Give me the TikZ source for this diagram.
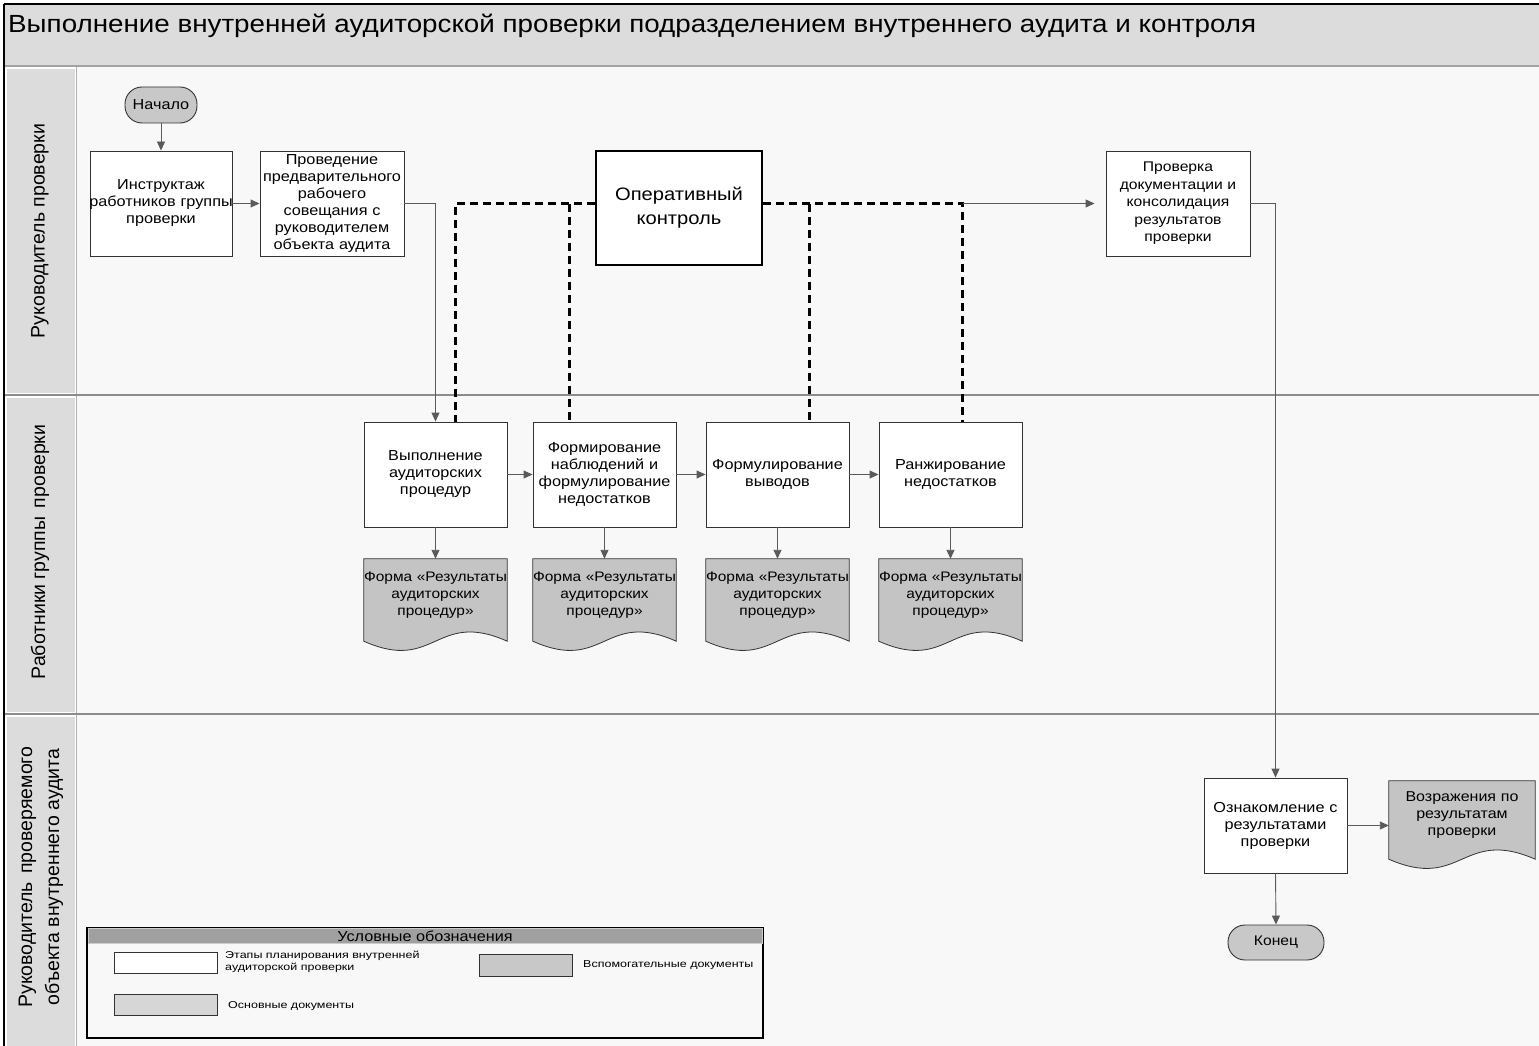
\documentclass[tikz,border=0pt]{standalone}
\usepackage{fontspec}
\setmainfont{Liberation Sans}[FakeStretch=1.12]
\newfontfamily\lanefont{Liberation Sans}
\newfontfamily\legfont{Liberation Sans}[FakeStretch=1.25]
\usetikzlibrary{arrows.meta,calc}
\pgfdeclarelayer{bgzero}
\pgfdeclarelayer{bgone}
\pgfsetlayers{bgzero,bgone,main}
\definecolor{hdr}{HTML}{DCDCDC}
\definecolor{pagebg}{HTML}{F8F8F8}
\definecolor{docc}{HTML}{C4C4C4}
\definecolor{termc}{HTML}{C8C8C8}
\definecolor{arrc}{HTML}{5A5A5A}
\definecolor{divc}{HTML}{8C8C8C}
\definecolor{legh}{HTML}{A0A0A0}
\definecolor{swa}{HTML}{C8C8C8}
\definecolor{swb}{HTML}{D6D6D6}
\definecolor{boxc}{HTML}{333333}
\newcommand\cln[1]{\makebox[\hsize][c]{#1}}
\newcommand\docshape[1]{%
  \path[docpath] (#1.north west) -- (#1.north east) -- ($(#1.south east)+(0,10)$)
    .. controls ($(#1.south)+(0,-22)$) and ($(#1.south)+(0,42)$) .. ($(#1.south west)+(0,10)$) -- cycle;}
\begin{document}
\begin{tikzpicture}[x=1pt,y=-1pt,
  proc/.style={draw=boxc, fill=white, line width=0.9pt, minimum width=143pt, minimum height=105pt,
    inner sep=0pt, text width=143pt, align=center, font=\fontsize{14.5}{17}\selectfont},
  docnode/.style={draw=none, minimum width=143pt, minimum height=72pt, inner sep=0pt,
    text width=143pt, align=center, font=\fontsize{13.8}{17}\selectfont},
  docpath/.style={fill=docc, draw=boxc, line width=0.8pt},
  term/.style={draw=boxc, fill=termc, line width=0.9pt, rounded corners=17pt, inner sep=0pt,
    font=\fontsize{14.5}{17}\selectfont},
  arr/.style={draw=arrc, line width=0.9pt, -{Triangle[length=9pt,width=8pt]}},
  dsh/.style={draw=black, line width=2.4pt, dash pattern=on 8pt off 5pt},
  lane/.style={rotate=90, align=center, font=\lanefont\fontsize{19.5}{27}\selectfont},
  legtxt/.style={anchor=west, align=left, inner sep=0pt, font=\legfont\fontsize{10}{12}\selectfont},
  swatch/.style={draw=boxc, line width=0.9pt, minimum width=103pt, minimum height=21pt, inner sep=0pt}
]
\useasboundingbox (0,0) rectangle (1539,1046);
\begin{pgfonlayer}{bgzero}
  \fill[white] (0,0) rectangle (1539,1046);
  \fill[pagebg] (76,67) rectangle (1539,1046);
  \fill[hdr] (4,4) rectangle (1539,65);
  \draw[divc!80, line width=2pt] (4,66) -- (1539,66);
  \filldraw[fill=hdr, draw=white, line width=1pt] (6,69) rectangle (75,393);
  \filldraw[fill=hdr, draw=white, line width=1pt] (6,397) rectangle (75,712);
  \filldraw[fill=hdr, draw=white, line width=1pt] (6,716) rectangle (75,1046);
  \draw[gray!60, line width=0.8pt] (76,67) -- (76,1046);
  \draw[divc, line width=2.5pt] (4,395) -- (1539,395);
  \draw[divc, line width=2.5pt] (4,714) -- (1539,714);
  \draw[black, line width=1.2pt] (4,4) -- (1539,4);
  \draw[black, line width=1.2pt] (4,4) -- (4,1046);
\end{pgfonlayer}

% title and lanes
\node[anchor=west, inner sep=0pt, font=\fontsize{24.8}{28}\selectfont] (title) at (8,26)
  {Выполнение внутренней аудиторской проверки подразделением внутреннего аудита и контроля};
\node[lane] (l1) at (40,231) {Руководитель проверки};
\node[lane] (l2) at (40,552) {Работники группы\hspace{0.15em} проверки};
\node[lane] (l3) at (41,877) {Руководитель\hspace{0.15em} проверяемого\\объекта внутреннего аудита};

% lane 1
\node[term, minimum width=72pt, minimum height=36pt] (start) at (161,105) {Начало};
\node[proc, minimum width=142pt, text width=142pt] (inst) at (161,203.5)
  {\cln{Инструктаж}\\\cln{работников группы}\\\cln{проверки}};
\node[proc, minimum width=144pt, text width=144pt] (prov) at (332,203.5)
  {\cln{Проведение}\\\cln{предварительного}\\\cln{рабочего}\\\cln{совещания с}\\\cln{руководителем}\\\cln{объекта аудита}};
\node[proc, line width=2.4pt, draw=black, minimum width=166pt, text width=166pt, minimum height=114pt,
  font=\fontsize{18}{24}\selectfont] (op) at (679,208) {\cln{Оперативный}\\\cln{контроль}};
\node[proc, minimum width=144pt, text width=144pt, font=\fontsize{14}{17.5}\selectfont] (chk) at (1178,203.5)
  {\cln{Проверка}\\\cln{документации и}\\\cln{консолидация}\\\cln{результатов}\\\cln{проверки}};

% lane 2
\node[proc] (vyp) at (435.5,474.5) {\cln{Выполнение}\\\cln{аудиторских}\\\cln{процедур}};
\node[proc] (form) at (604.5,474.5) {\cln{Формирование}\\\cln{наблюдений и}\\\cln{формулирование}\\\cln{недостатков}};
\node[proc] (fml) at (777.5,474.5) {\cln{Формулирование}\\\cln{выводов}};
\node[proc] (rank) at (950.5,474.5) {\cln{Ранжирование}\\\cln{недостатков}};

\node[docnode] (d1) at (435.5,595) {\cln{Форма «Результаты}\\\cln{аудиторских}\\\cln{процедур»}};
\node[docnode] (d2) at (604.5,595) {\cln{Форма «Результаты}\\\cln{аудиторских}\\\cln{процедур»}};
\node[docnode] (d3) at (777.5,595) {\cln{Форма «Результаты}\\\cln{аудиторских}\\\cln{процедур»}};
\node[docnode] (d4) at (950.5,595) {\cln{Форма «Результаты}\\\cln{аудиторских}\\\cln{процедур»}};

% lane 3
\node[proc, minimum height=95pt] (ozn) at (1275.5,825.5) {\cln{Ознакомление с}\\\cln{результатами}\\\cln{проверки}};
\node[docnode, minimum width=146pt, text width=146pt, minimum height=68pt, font=\fontsize{14.3}{17}\selectfont] (voz) at (1462,815)
  {\cln{Возражения по}\\\cln{результатам}\\\cln{проверки}};
\node[term, minimum width=96pt, minimum height=35pt, font=\fontsize{14}{17}\selectfont] (end) at (1276,942.5) {Конец};

\begin{pgfonlayer}{bgone}
  \docshape{d1}\docshape{d2}\docshape{d3}\docshape{d4}\docshape{voz}
\end{pgfonlayer}

% connectors
\draw[arr] (start.south) -- (inst.north);
\draw[arr] (inst.east) -- (prov.west);
\draw[arr] (prov.east) -| (vyp.north);
\draw[arr] (vyp.east) -- (form.west);
\draw[arr] (form.east) -- (fml.west);
\draw[arr] (fml.east) -- (rank.west);
\draw[arr] (vyp.south) -- (d1.north);
\draw[arr] (form.south) -- (d2.north);
\draw[arr] (fml.south) -- (d3.north);
\draw[arr] (rank.south) -- (d4.north);

\coordinate (ol) at (op.west |- chk.west);
\coordinate (or) at (op.east |- chk.west);
\coordinate (va) at ([xshift=20pt]vyp.north);
\coordinate (vb) at ([xshift=-35pt]form.north);
\coordinate (vc) at ([xshift=32pt]fml.north);
\coordinate (vd) at ([xshift=12pt]rank.north);
\coordinate (ja) at (va |- ol);
\coordinate (jb) at (vb |- ol);
\coordinate (jc) at (vc |- or);
\coordinate (jd) at (vd |- or);
\draw[dsh] (ol) -- (ja) -- (va);
\draw[dsh] (jb) -- (vb);
\draw[dsh] (or) -- (jd) -- (vd);
\draw[dsh] (jc) -- (vc);
\draw[arr, shorten >=11pt] (jd) -- (chk.west);

\draw[arr] (chk.east) -| (ozn.north);
\draw[arr] (ozn.east) -- (ozn.east -| voz.west);
\draw[arr] (ozn.south) -- (end.north);

% legend
\node[draw=black, line width=1.2pt, minimum width=676pt, minimum height=110pt, inner sep=0pt] (leg) at (425,983) {};
\node[fill=legh, draw=gray!40, line width=0.8pt, minimum width=674pt, minimum height=15pt, inner sep=0pt,
  font=\fontsize{14.5}{15}\selectfont] (legh) at (425,936) {Условные обозначения};
\node[swatch, fill=white] (sw1) at (165.5,962.5) {};
\node[legtxt] (t1) at (225,962) {Этапы планирования внутренней\\аудиторской проверки};
\node[swatch, fill=swa, minimum width=93pt, minimum height=22pt] (sw2) at (525.5,965.5) {};
\node[legtxt] (t2) at (583,965.5) {Вспомогательные документы};
\node[swatch, fill=swb] (sw3) at (165.5,1004.5) {};
\node[legtxt] (t3) at (228,1006) {Основные документы};
\end{tikzpicture}
\end{document}
